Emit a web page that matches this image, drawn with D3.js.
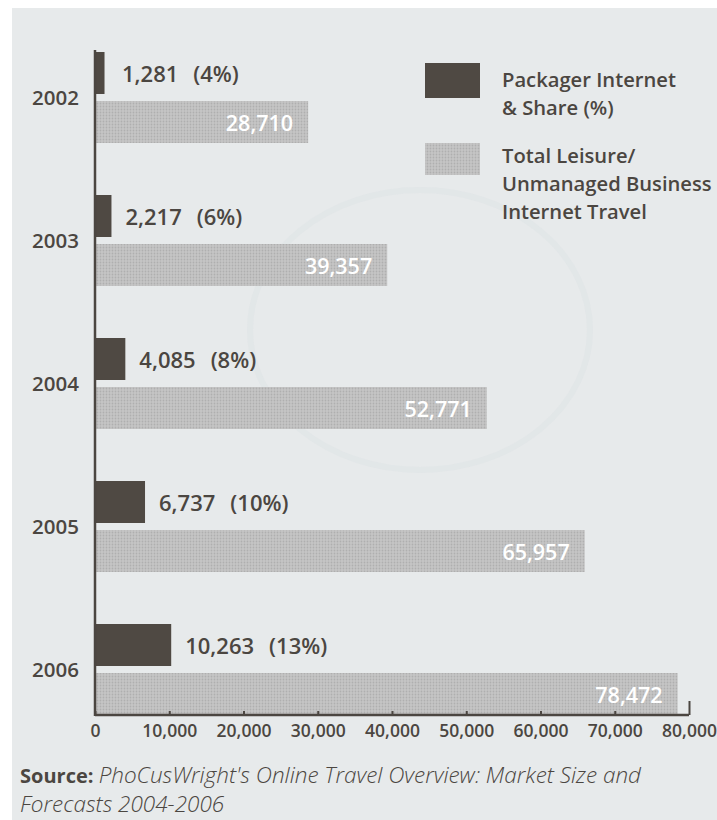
<!DOCTYPE html>
<html>
<head>
<meta charset="utf-8">
<script src="https://cdn.jsdelivr.net/npm/d3@7"></script>
<style>
  body { margin: 0; background: #fff; }
  svg { display: block; font-family: "Open Sans", "Noto Sans", sans-serif; }
</style>
</head>
<body>
<script>
// data
var years = ["2002", "2003", "2004", "2005", "2006"];
var packager = [1281, 2217, 4085, 6737, 10263];
var packagerShare = [4, 6, 8, 10, 13];
var totalTravel = [28710, 39357, 52771, 65957, 78472];
var xTicks = [0, 10000, 20000, 30000, 40000, 50000, 60000, 70000, 80000];
var legendLabels = [
    ["Packager Internet", "& Share (%)"],
    ["Total Leisure/", "Unmanaged Business", "Internet Travel"]
];

var svgWidth = 717;
var svgHeight = 820;
var ink = "#4b4641";

var svg = d3.select("body").append("svg")
    .attr("width", svgWidth)
    .attr("height", svgHeight);

// halftone look for the light bars
var defs = svg.append("defs");
var pat = defs.append("pattern")
    .attr("id", "dots")
    .attr("width", 3).attr("height", 3)
    .attr("patternUnits", "userSpaceOnUse");
pat.append("rect").attr("width", 3).attr("height", 3).attr("fill", "#c6c6c6");
pat.append("circle").attr("cx", 1.5).attr("cy", 1.5).attr("r", 0.9).attr("fill", "#afafaf");

// paper background with white scan edge
svg.append("rect").attr("width", svgWidth).attr("height", svgHeight).attr("fill", "#ffffff");
svg.append("rect").attr("x", 12).attr("y", 8)
    .attr("width", svgWidth - 12).attr("height", svgHeight - 8)
    .attr("fill", "#e7eaeb");

// faint watermark swirl
svg.append("ellipse")
    .attr("cx", 420).attr("cy", 330).attr("rx", 170).attr("ry", 140)
    .attr("fill", "none").attr("stroke", "#dde3e5").attr("stroke-width", 6).attr("opacity", 0.5);

var x = d3.scaleLinear().domain([0, 80000]).range([95, 689]);
var y = d3.scaleBand().domain(years).range([0, 715]);
var sub = d3.scaleBand().domain(["pkg", "total"]).range([52, 143]).paddingInner(0.143);

var rows = years.map(function(yr, i) {
    return { year: yr, pkg: packager[i], share: packagerShare[i], total: totalTravel[i] };
});

var g = svg.append("g");

// dark bars
g.selectAll(".pkg")
    .data(rows)
    .enter().append("rect")
    .attr("class", "pkg")
    .attr("x", x(0))
    .attr("y", d => y(d.year) + sub("pkg"))
    .attr("width", d => x(d.pkg) - x(0))
    .attr("height", sub.bandwidth())
    .attr("fill", "#4f4943");

// light bars
g.selectAll(".total")
    .data(rows)
    .enter().append("rect")
    .attr("class", "total")
    .attr("x", x(0))
    .attr("y", d => y(d.year) + sub("total"))
    .attr("width", d => x(d.total) - x(0))
    .attr("height", sub.bandwidth())
    .attr("fill", "url(#dots)");

// dark bar labels
var pkgLabels = g.selectAll(".pkgLabel")
    .data(rows)
    .enter().append("text")
    .attr("class", "pkgLabel")
    .attr("x", d => Math.max(x(d.pkg) + 14, 122))
    .attr("y", d => y(d.year) + sub("pkg") + sub.bandwidth() / 2)
    .attr("dy", "0.4em")
    .attr("fill", ink)
    .style("font-size", "22px")
    .style("font-weight", 600);
pkgLabels.append("tspan").text(d => d3.format(",")(d.pkg));
pkgLabels.append("tspan").attr("dx", 15).text(d => "(" + d.share + "%)");

// light bar labels
g.selectAll(".totalLabel")
    .data(rows)
    .enter().append("text")
    .attr("class", "totalLabel")
    .attr("x", d => x(d.total) - 15)
    .attr("y", d => y(d.year) + sub("total") + sub.bandwidth() / 2)
    .attr("dy", "0.4em")
    .attr("text-anchor", "end")
    .attr("fill", "#ffffff")
    .style("font-size", "21.5px")
    .style("font-weight", 600)
    .text(d => d3.format(",")(d.total));

// year labels
g.selectAll(".yearLabel")
    .data(rows)
    .enter().append("text")
    .attr("class", "yearLabel")
    .attr("x", 79)
    .attr("y", d => y(d.year) + sub("total") - 3)
    .attr("dy", "0.35em")
    .attr("text-anchor", "end")
    .attr("fill", ink)
    .style("font-size", "20.5px")
    .style("font-weight", 600)
    .text(d => d.year);

// x axis
var xAxis = d3.axisBottom(x)
    .tickValues(xTicks)
    .tickSize(-4)
    .tickPadding(10)
    .tickFormat(d3.format(","));

var axisG = svg.append("g")
    .attr("transform", "translate(0,715)")
    .call(xAxis);
axisG.select(".domain").remove();
axisG.selectAll(".tick line").attr("stroke", ink).attr("stroke-width", 2);
axisG.selectAll(".tick").filter(d => d === 80000).select("line").attr("y2", -14);
axisG.selectAll(".tick text")
    .attr("fill", ink)
    .style("font-size", "17.5px")
    .style("font-weight", 600)
    .style("font-family", "'Open Sans', sans-serif");

svg.append("line")
    .attr("x1", x(0)).attr("x2", x(80000))
    .attr("y1", 715).attr("y2", 715)
    .attr("stroke", ink).attr("stroke-width", 2.5);
svg.append("line")
    .attr("x1", x(0)).attr("x2", x(0))
    .attr("y1", 50).attr("y2", 716)
    .attr("stroke", ink).attr("stroke-width", 2.5);

// legend
var legend = svg.append("g");
var legendTop = [63, 143];
var legendFill = ["#4f4943", "url(#dots)"];
var legendRowTop = [87, 163];
legendLabels.forEach(function(lines, i) {
    legend.append("rect")
        .attr("x", 425).attr("y", legendTop[i])
        .attr("width", 55).attr("height", i === 0 ? 35 : 32)
        .attr("fill", legendFill[i]);
    legend.append("text")
        .attr("x", 502).attr("y", legendRowTop[i])
        .attr("fill", ink)
        .style("font-size", "20.2px")
        .style("font-weight", 600)
        .selectAll("tspan")
        .data(lines)
        .enter().append("tspan")
        .attr("x", 502)
        .attr("dy", (d, j) => j === 0 ? 0 : 28)
        .text(d => d);
});

// source note
var src = svg.append("text")
    .attr("x", 20).attr("y", 783)
    .attr("fill", ink)
    .style("font-size", "20px");
src.append("tspan").style("font-weight", 700).text("Source: ");
src.append("tspan").style("font-style", "italic").style("font-weight", 300)
    .style("font-size", "22.5px")
    .text("PhoCusWright's Online Travel Overview: Market Size and");
svg.append("text")
    .attr("x", 20).attr("y", 812)
    .attr("fill", ink)
    .style("font-size", "22.5px")
    .style("font-style", "italic")
    .style("font-weight", 300)
    .text("Forecasts 2004-2006");
</script>
</body>
</html>
